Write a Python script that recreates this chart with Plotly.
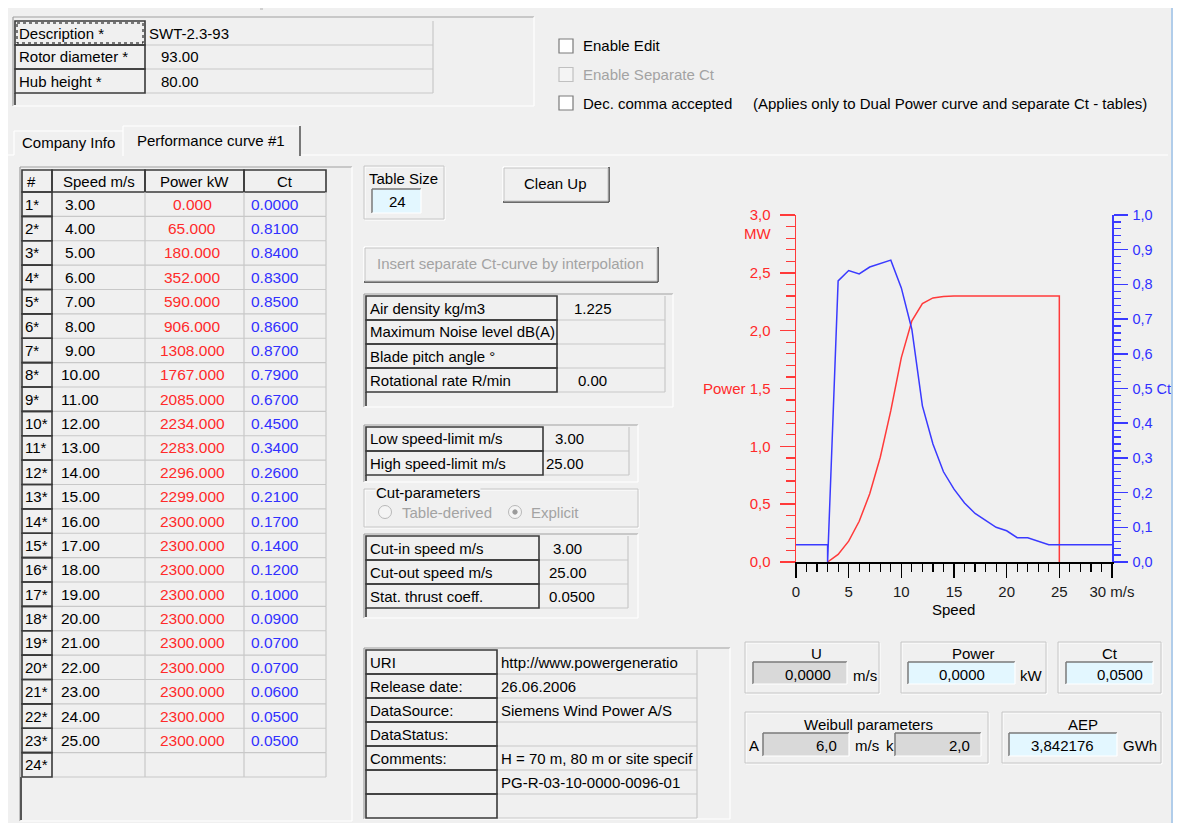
import plotly.graph_objects as go

W, H = 1181, 831          # browser window (reference pixel space)
OX, OY = 8, 8             # default body margin of the page
FW, FH = W - 2 * OX, H - 2 * OY

# ---------------- data ----------------
speeds = [3.0, 4.0, 5.0, 6.0, 7.0, 8.0, 9.0, 10.0, 11.0, 12.0, 13.0, 14.0, 15.0,
          16.0, 17.0, 18.0, 19.0, 20.0, 21.0, 22.0, 23.0, 24.0, 25.0]
power_kw = [0.0, 65.0, 180.0, 352.0, 590.0, 906.0, 1308.0, 1767.0, 2085.0, 2234.0,
            2283.0, 2296.0, 2299.0, 2300.0, 2300.0, 2300.0, 2300.0, 2300.0, 2300.0,
            2300.0, 2300.0, 2300.0, 2300.0]
ct_values = [0.0, 0.81, 0.84, 0.83, 0.85, 0.86, 0.87, 0.79, 0.67, 0.45, 0.34, 0.26,
             0.21, 0.17, 0.14, 0.12, 0.10, 0.09, 0.07, 0.07, 0.06, 0.05, 0.05]
table_size = 24
table_headers = ["#", "Speed m/s", "Power kW", "Ct"]

turbine_fields = ["Description *", "Rotor diameter *", "Hub height *"]
turbine_values = ["SWT-2.3-93", "93.00", "80.00"]
site_fields = ["Air density kg/m3", "Maximum Noise level dB(A)", "Blade pitch angle °", "Rotational rate R/min"]
site_values = ["1.225", "", "", "0.00"]
limit_fields = ["Low speed-limit m/s", "High speed-limit m/s"]
limit_values = ["3.00", "25.00"]
cut_fields = ["Cut-in speed m/s", "Cut-out speed m/s", "Stat. thrust coeff."]
cut_values = ["3.00", "25.00", "0.0500"]
info_fields = ["URI", "Release date:", "DataSource:", "DataStatus:", "Comments:", "", ""]
info_values = ["http://www.powergeneratio", "26.06.2006", "Siemens Wind Power A/S", "",
               "H = 70 m, 80 m or site specif", "PG-R-03-10-0000-0096-01", ""]
checkbox_labels = ["Enable Edit", "Enable Separate Ct", "Dec. comma accepted"]
note_text = "(Applies only to Dual Power curve and separate Ct - tables)"
tab_labels = ["Company Info", "Performance curve #1"]

cut_in, cut_out, stat_ct, speed_max = 3.0, 25.0, 0.05, 30.0
x_tickvals = [0, 5, 10, 15, 20, 25, 30]
x_ticktext = ["0", "5", "10", "15", "20", "25", "30 m/s"]
p_tickvals = [0.0, 0.5, 1.0, 1.5, 2.0, 2.5, 3.0]
p_ticktext = ["0,0", "0,5", "1,0", "Power 1,5", "2,0", "2,5", "3,0"]
ct_tickvals = [0.0, 0.1, 0.2, 0.3, 0.4, 0.5, 0.6, 0.7, 0.8, 0.9, 1.0]
ct_ticktext = ["0,0", "0,1", "0,2", "0,3", "0,4", "0,5 Ct", "0,6", "0,7", "0,8", "0,9", "1,0"]

readout_u, readout_power, readout_ct = "0,0000", "0,0000", "0,0500"
weibull_a, weibull_k, aep_gwh = "6,0", "2,0", "3,842176"

# ---------------- styling helpers ----------------
FONT = "Liberation Sans, Arial, sans-serif"
BG = "#f0f0f0"
DARK = "#3a3a3a"
GRID = "#c8c8c8"
SHADOW = "#a0a0a0"
RED = "#ff2a2a"
BLUE = "#3030ff"
DISABLED = "#a3a3a3"
CYAN = "#e3f7ff"
INGRAY = "#d9d9d9"

shapes, anns = [], []


def X(x):
    return (x - OX) / FW


def Y(y):
    return 1 - (y - OY) / FH


def L(x0, y0, x1, y1, color, w=1.0, dash=None):
    d = dict(type="line", xref="paper", yref="paper", x0=X(x0), y0=Y(y0), x1=X(x1), y1=Y(y1),
             line=dict(color=color, width=w))
    if dash:
        d["line"]["dash"] = dash
    shapes.append(d)


def R(x0, y0, x1, y1, fill=None, line=None, w=1.0, dash=None):
    d = dict(type="rect", xref="paper", yref="paper", x0=X(x0), y0=Y(y0), x1=X(x1), y1=Y(y1),
             line=dict(width=w if line else 0, color=line or "rgba(0,0,0,0)"))
    if dash:
        d["line"]["dash"] = dash
    d["fillcolor"] = fill if fill else "rgba(0,0,0,0)"
    shapes.append(d)


def C(cx, cy, r, fill, line):
    shapes.append(dict(type="circle", xref="paper", yref="paper",
                       x0=X(cx - r), x1=X(cx + r), y0=Y(cy + r), y1=Y(cy - r),
                       fillcolor=fill, line=dict(color=line, width=1)))


def T(x, y, s, color="#000000", size=15, anchor="left", bg=None):
    a = dict(x=X(x), y=Y(y), xref="paper", yref="paper", text=s, showarrow=False,
             xanchor=anchor, yanchor="middle", font=dict(family=FONT, size=size, color=color),
             borderpad=0)
    if bg:
        a["bgcolor"] = bg
    anns.append(a)


def sunken(x0, y0, x1, y1, fill=None):
    if fill:
        R(x0, y0, x1, y1, fill=fill)
    L(x0, y0, x1, y0, SHADOW, 1.2)
    L(x0, y0, x0, y1, SHADOW, 1.2)
    L(x0, y1, x1, y1, "#ffffff", 1.2)
    L(x1, y0, x1, y1, "#ffffff", 1.2)


def inputbox(x0, y0, x1, y1, fill):
    R(x0, y0, x1, y1, fill=fill)
    L(x0, y0, x1, y0, "#7a7a7a", 1.5)
    L(x0, y0, x0, y1, "#7a7a7a", 1.5)
    L(x0, y1, x1, y1, "#ffffff", 1.2)
    L(x1, y0, x1, y1, "#ffffff", 1.2)


def raised_btn(x0, y0, x1, y1):
    L(x0, y0, x1, y0, "#ffffff", 1.5)
    L(x0, y0, x0, y1, "#ffffff", 1.5)
    L(x0, y1, x1, y1, "#6a6a6a", 2)
    L(x1, y0, x1, y1, "#6a6a6a", 2)
    R(x0 + 1, y0 + 1, x1 - 1, y1 - 1, line="#c4c4c4", w=1)


def etched(x0, y0, x1, y1):
    R(x0 + 1, y0 + 1, x1 + 1, y1 + 1, line="#ffffff", w=1)
    R(x0, y0, x1, y1, line="#c6c6c6", w=1)


def label_cell(x0, y0, x1, y1):
    R(x0, y0, x1, y1, line=DARK, w=1.6)


def value_cell(x0, y0, x1, y1):
    L(x0, y1, x1, y1, GRID, 1.2)
    L(x1, y0, x1, y1, GRID, 1.2)


def kv_table(x_label, x_split, x_end, y_top, row_h, fields, values, px_end, py_end, val_x):
    sunken(x_label - 2, y_top - 2, px_end, py_end)
    for i, (f, v) in enumerate(zip(fields, values)):
        y0 = y_top + row_h * i
        y1 = y0 + row_h
        value_cell(x_split, y0, x_end, y1)
        label_cell(x_label, y0, x_split, y1)
        T(x_label + 3, (y0 + y1) / 2, f)
        if v:
            vx = val_x[i] if isinstance(val_x, list) else val_x
            T(vx, (y0 + y1) / 2, v)
    yb = y_top + row_h * len(fields)
    L(x_label, yb, x_label, py_end - 1, DARK, 1.6)


# ---------------- window frame ----------------
L(1172, OY, 1172, H, "#9cc2e8", 1.5)
L(260, 9, 263, 9, "#b0b0b0", 1)

# ---------------- top description panel ----------------
sunken(13, 17, 534, 106)
for i, (f, v) in enumerate(zip(turbine_fields, turbine_values)):
    y0 = 21 + 24 * i
    y1 = y0 + 24
    value_cell(145, y0, 433, y1)
    label_cell(15, y0, 145, y1)
    T(18, (y0 + y1) / 2, f)
    T(148 if i == 0 else 160, (y0 + y1) / 2, v)
R(17, 23, 143, 43, line="#000000", w=1, dash="dot")
L(15, 93, 15, 105, DARK, 1.6)

# ---------------- checkboxes ----------------
for i, lab in enumerate(checkbox_labels):
    cy = 46 + 28.5 * i
    dis = (i == 1)
    R(559, cy - 7, 573, cy + 7, fill="#ffffff" if not dis else "#f4f4f4",
      line="#7a7a7a" if not dis else "#c0c0c0", w=1.2)
    T(582, cy, lab, color=DISABLED if dis else "#000000")
T(752, 103, note_text)

# ---------------- tabs ----------------
L(OX, 155, 14, 155, "#ffffff", 1.2)
L(300, 155, 1168, 155, "#ffffff", 1.2)
L(14, 155, 14, 131, "#ffffff", 1.2)
L(14, 131, 123, 131, "#ffffff", 1.2)
L(123, 126, 300, 126, "#ffffff", 1.2)
L(123, 126, 123, 156, "#ffffff", 1.2)
L(300, 126, 300, 156, "#6a6a6a", 1.8)
T(68, 143, tab_labels[0], anchor="center")
T(211, 141, tab_labels[1], anchor="center")

# ---------------- performance table ----------------
cols = [22, 52, 145, 244, 326]
head_y0, head_y1 = 170, 192
row_h = 24.375
sunken(20, 167, 352, 821)
for j, hdr in enumerate(table_headers):
    label_cell(cols[j], head_y0, cols[j + 1], head_y1)
    if j == 0:
        T(cols[0] + 4, (head_y0 + head_y1) / 2, hdr)
    else:
        T((cols[j] + cols[j + 1]) / 2, (head_y0 + head_y1) / 2, hdr, anchor="center")
for i in range(table_size):
    y0 = head_y1 + row_h * i
    y1 = y0 + row_h
    yc = (y0 + y1) / 2
    for j in range(1, 4):
        value_cell(cols[j], y0, cols[j + 1], y1)
    label_cell(cols[0], y0, cols[1], y1)
    T(cols[0] + 2, yc, f"{i + 1}*", size=15)
    if i < len(speeds):
        T(80, yc, f"{speeds[i]:.2f}", anchor="center", size=15.5)
        T(192, yc, f"{power_kw[i]:.3f}", color=RED, anchor="center", size=15.5)
        T(275, yc, f"{ct_values[i]:.4f}", color=BLUE, anchor="center", size=15.5)
L(21, head_y1 + row_h * table_size, 21, 820, "#555555", 2)

# ---------------- middle controls ----------------
etched(364, 166, 444, 219)
T(368, 178, "Table Size")
inputbox(372, 189, 421, 213, CYAN)
T(397, 202, str(table_size), anchor="center")

raised_btn(503, 167, 609, 202)
T(555, 184, "Clean Up", anchor="center")

raised_btn(364, 247, 658, 282)
T(510, 264, "Insert separate Ct-curve by interpolation", color=DISABLED, anchor="center")

kv_table(366, 557, 665, 296, 24, site_fields, site_values, 673, 407, [573, 573, 573, 577])
kv_table(366, 543, 629, 427, 24, limit_fields, limit_values, 638, 482, [554, 545])

etched(364, 489, 638, 527)
T(375, 492, "Cut-parameters", bg=BG)
C(385, 512, 6.5, "#f4f4f4", "#b8b8b8")
T(401, 512, "Table-derived", color=DISABLED)
C(515, 512, 6.5, "#f4f4f4", "#b8b8b8")
C(515, 512, 2.2, "#9a9a9a", "#9a9a9a")
T(530, 512, "Explicit", color=DISABLED)

kv_table(366, 539, 628, 536, 24, cut_fields, cut_values, 638, 618, [552, 548, 548])
kv_table(366, 497, 697, 650, 24, info_fields, info_values, 730, 819, 500)

# ---------------- readouts ----------------
etched(745, 642, 879, 693)
T(816, 653, "U", anchor="center")
inputbox(753, 662, 847, 684, INGRAY)
T(832, 674, readout_u, anchor="right")
T(852, 675, "m/s")

etched(901, 642, 1046, 693)
T(973, 653, "Power", anchor="center")
inputbox(908, 662, 1015, 684, CYAN)
T(962, 674, readout_power, anchor="center")
T(1019, 675, "kW")

etched(1058, 642, 1161, 693)
T(1110, 653, "Ct", anchor="center")
inputbox(1066, 662, 1153, 684, CYAN)
T(1144, 674, readout_ct, anchor="right")

etched(745, 712, 988, 763)
T(868, 724, "Weibull parameters", anchor="center")
T(748, 745, "A")
inputbox(763, 733, 849, 756, INGRAY)
T(838, 745, weibull_a, anchor="right")
T(854, 745, "m/s")
T(885, 745, "k")
inputbox(895, 733, 981, 756, INGRAY)
T(971, 745, weibull_k, anchor="right")

etched(1002, 712, 1161, 763)
T(1083, 724, "AEP", anchor="center")
inputbox(1009, 733, 1117, 756, CYAN)
T(1062, 745, aep_gwh, anchor="center")
T(1122, 745, "GWh")

# ---------------- chart ----------------
T(772, 234, "MW", color=RED, anchor="right")
T(953, 609, "Speed", anchor="center")

ct_x = [0.0, cut_in] + speeds + [speed_max]
ct_y = [stat_ct, stat_ct] + ct_values + [stat_ct]
p_x = speeds + [cut_out]
p_y = [p / 1000.0 for p in power_kw] + [0.0]

fig = go.Figure()
fig.add_trace(go.Scatter(x=p_x, y=p_y, mode="lines", line=dict(color="#ff3a3a", width=1.5),
                         hoverinfo="skip", showlegend=False, yaxis="y"))
fig.add_trace(go.Scatter(x=ct_x, y=ct_y, mode="lines", line=dict(color="#3a3aff", width=1.5),
                         hoverinfo="skip", showlegend=False, yaxis="y2"))

tickfont = dict(family=FONT, size=15)
fig.update_layout(
    width=FW, height=FH, margin=dict(l=0, r=0, t=0, b=0, pad=0), autosize=False,
    paper_bgcolor=BG, plot_bgcolor=BG, showlegend=False,
    shapes=shapes, annotations=anns,
    xaxis=dict(domain=[X(796), X(1112)], range=[0, speed_max], showgrid=False, zeroline=False,
               automargin=False,
               showline=True, linecolor="#000000", linewidth=1.5,
               ticks="outside", ticklen=14, tickwidth=1.5, tickcolor="#000000",
               tickmode="array", tickvals=x_tickvals, ticktext=x_ticktext,
               tickfont=dict(tickfont, color="#1a1a1a"), ticklabelstandoff=1,
               minor=dict(ticks="outside", ticklen=8, tickwidth=1.2, tickcolor="#000000", dtick=1),
               fixedrange=True),
    yaxis=dict(domain=[Y(562), Y(215)], range=[0, 3], showgrid=False, zeroline=False,
               automargin=False,
               showline=True, linecolor="#ff3a3a", linewidth=1.5, anchor="x", side="left",
               ticks="outside", ticklen=15, tickwidth=1.5, tickcolor="#ff3a3a",
               tickmode="array", tickvals=p_tickvals, ticktext=p_ticktext,
               tickfont=dict(tickfont, color=RED), ticklabelstandoff=6,
               minor=dict(ticks="outside", ticklen=9, tickwidth=1.2, tickcolor="#ff3a3a", dtick=0.1),
               fixedrange=True),
    yaxis2=dict(domain=[Y(562), Y(215)], range=[0, 1], overlaying="y", anchor="x", side="right",
                automargin=False,
                showgrid=False, zeroline=False, showline=True, linecolor="#3a3aff", linewidth=1.5,
                ticks="outside", ticklen=14, tickwidth=1.5, tickcolor="#3a3aff",
                tickmode="array", tickvals=ct_tickvals, ticktext=ct_ticktext,
                tickfont=dict(family=FONT, size=14.5, color=BLUE), ticklabelstandoff=2,
                minor=dict(ticks="outside", ticklen=7, tickwidth=1.2, tickcolor="#3a3aff", dtick=0.02),
                fixedrange=True),
)

fig.write_html("out.html", config={"displayModeBar": False, "staticPlot": True})
